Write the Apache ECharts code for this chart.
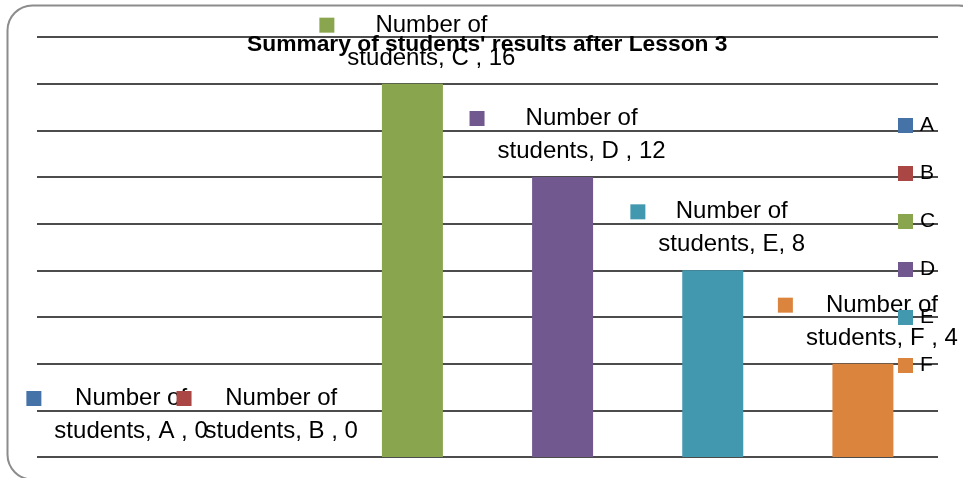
<!DOCTYPE html>
<html><head><meta charset="utf-8">
<script src="https://cdn.jsdelivr.net/npm/echarts@6/dist/echarts.min.js"></script>
<style>html,body{margin:0;padding:0;background:#fff}#c{width:963px;height:478px}</style>
</head><body><div id="c"></div>
<script>
// ---- data ----
const chartTitle = "Summary of students' results after Lesson 3";
const categoryLine1 = 'Number of';
const categoryLine2 = 'students';
const seriesNames = ['A', 'B', 'C', 'D', 'E', 'F'];
const values = [0, 0, 16, 12, 8, 4];
const labelSeparators = [' , ', ' , ', ' , ', ' , ', ', ', ' , '];
const yMin = 0, yMax = 18, yInterval = 2;

// ---- style ----
const colors = ['#4572A7', '#AA4643', '#89A54E', '#71588F', '#4198AF', '#DB843D'];
const FONT = '"Liberation Sans", Arial, sans-serif';

const series = seriesNames.map((name, i) => ({
  name: name,
  type: 'bar',
  stack: 'all',
  barWidth: 61,
  itemStyle: { color: colors[i] },
  data: seriesNames.map((_, j) => (j === i ? values[i] : '-')),
  label: {
    show: true,
    position: 'top',
    distance: 9,
    offset: [5, 0],
    color: '#000',
    fontFamily: FONT,
    fontSize: 24,
    lineHeight: 33,
    formatter: p => '{sq|}{gap|}{t|' + categoryLine1 + '}\n{pad|}{t|' + categoryLine2 + ', ' + name + labelSeparators[i] + p.value + '}',
    rich: {
      sq: { width: 15, height: 15, backgroundColor: colors[i], align: 'left' },
      gap: { width: 13, align: 'left' },
      pad: { width: 28, align: 'left' },
      t: { align: 'center', fontSize: 24, lineHeight: 33, fontFamily: FONT, color: '#000' }
    }
  }
}));

const chart = echarts.init(document.getElementById('c'), null, { renderer: 'canvas' });
chart.setOption({
  animation: false,
  backgroundColor: '#fff',
  title: {
    text: chartTitle,
    left: 247,
    top: 34,
    padding: 0,
    textStyle: { fontFamily: FONT, fontSize: 22.8, fontWeight: 'bold', color: '#000', lineHeight: 22 }
  },
  legend: {
    orient: 'vertical',
    left: 898,
    top: 115,
    icon: 'rect',
    itemWidth: 15,
    itemHeight: 15,
    itemGap: 27,
    padding: 0,
    data: seriesNames,
    textStyle: { fontFamily: FONT, fontSize: 21, color: '#000', lineHeight: 21, padding: [0, 0, 0, 2] }
  },
  grid: { left: 37, right: 25, top: 37, bottom: 21, containLabel: false },
  xAxis: {
    type: 'category',
    data: seriesNames,
    axisLine: { show: false },
    axisTick: { show: false },
    axisLabel: { show: false },
    splitLine: { show: false }
  },
  yAxis: {
    type: 'value',
    min: yMin,
    max: yMax,
    interval: yInterval,
    axisLine: { show: false },
    axisTick: { show: false },
    axisLabel: { show: false },
    splitLine: { show: true, lineStyle: { color: '#111', width: 1.5 } }
  },
  graphic: [{
    type: 'rect',
    silent: true,
    z: 100,
    shape: { x: 7.5, y: 5.5, width: 976, height: 474, r: 25 },
    style: { fill: 'none', stroke: '#8c8c8c', lineWidth: 2 }
  }],
  series: series
});
</script>
</body></html>
